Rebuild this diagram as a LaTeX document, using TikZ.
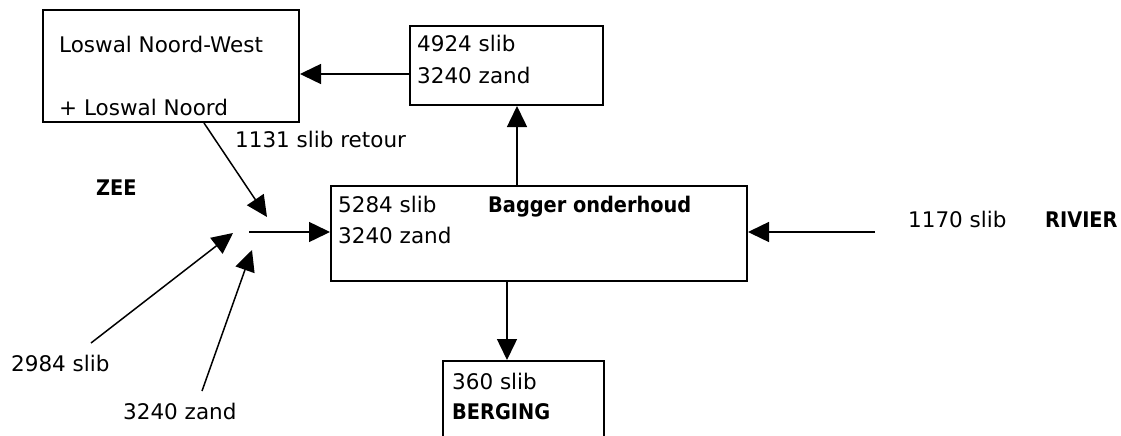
\documentclass[tikz,border=0pt]{standalone}
\usepackage{fontspec}
\setmainfont{DejaVu Sans}
\newfontfamily\bsans{DejaVu Sans Condensed}[BoldFont={DejaVu Sans Condensed Bold}]
\usetikzlibrary{arrows.meta}
\begin{document}
\begin{tikzpicture}[x=1pt,y=-1pt,
  box/.style={draw,line width=2pt,rectangle,inner sep=0pt,anchor=north west},
  arr/.style={line width=1.5pt,-{Triangle[length=21pt,width=20pt]}},
  txt/.style={inner sep=0pt,anchor=base west,font=\fontsize{21.5}{30}\selectfont},
  btxt/.style={inner sep=0pt,anchor=base west,font=\fontsize{21.5}{30}\selectfont\bsans\bfseries}]
\useasboundingbox (0,0) rectangle (1121,436);
\clip (0,0) rectangle (1121,436);
% boxes
\node[box,minimum width=256pt,minimum height=112pt] (lw) at (42,9) {};
\node[box,minimum width=193pt,minimum height=79pt] (tb) at (409,25) {};
\node[box,minimum width=416pt,minimum height=95pt] (mb) at (330,185) {};
\node[box,minimum width=161pt,minimum height=100pt] (bb) at (442,360) {};
% texts
\node[txt] (t1) at (59,52.5) {Loswal Noord-West};
\node[txt] (t2) at (59,115) {+ Loswal Noord};
\node[txt] (t3) at (417,51.7) {4924 slib};
\node[txt] (t4) at (417,83.3) {3240 zand};
\node[txt] (t5) at (235,147.7) {1131 slib retour};
\node[btxt] (t6) at (96,195.7) {ZEE};
\node[txt] (t7) at (338,212.3) {5284 slib};
\node[txt] (t8) at (338,243.3) {3240 zand};
\node[btxt] (t9) at (488,212.3) {Bagger onderhoud};
\node[txt] (t10) at (908,227.7) {1170 slib};
\node[btxt] (t11) at (1045,227.7) {RIVIER};
\node[txt] (t12) at (11,371.7) {2984 slib};
\node[txt] (t13) at (123,419.3) {3240 zand};
\node[txt] (t14) at (452,389.3) {360 slib};
\node[btxt] (t15) at (452,419.3) {BERGING};
% coordinates
\coordinate (j) at (249,232);
\coordinate (riv) at (875,232);
\coordinate (a1) at (267,217);
\coordinate (s1) at (91,343);
\coordinate (a2) at (233,233);
\coordinate (s2) at (202,391);
\coordinate (a3) at (252,250);
% connectors
\draw[arr] ([yshift=-8.5pt]tb.west) -- ([yshift=-8.5pt]tb.west -| lw.east);
\draw[arr] ([xshift=-22pt]mb.north) -- ([xshift=-22pt]mb.north |- tb.south);
\draw[arr] ([xshift=-32pt]mb.south) -- ([xshift=-32pt]mb.south |- bb.north);
\draw[arr] (riv) -- (riv -| mb.east);
\draw[arr] (j) -- (j -| mb.west);
\draw[arr] ([xshift=33pt]lw.south) -- (a1);
\draw[arr] (s1) -- (a2);
\draw[arr] (s2) -- (a3);
\end{tikzpicture}
\end{document}
